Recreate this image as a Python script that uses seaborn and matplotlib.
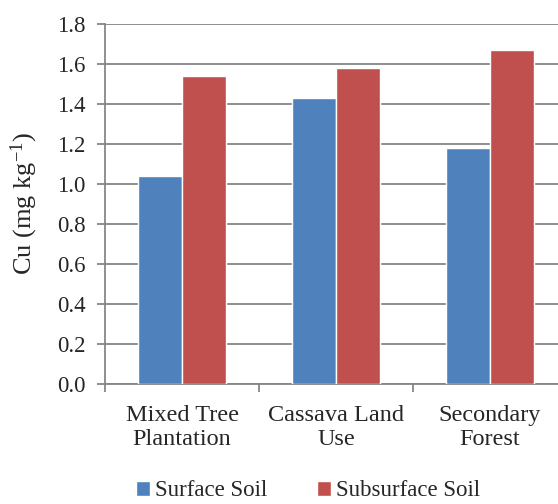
import pandas as pd
import seaborn as sns
import matplotlib.pyplot as plt
from matplotlib.ticker import MultipleLocator, FixedLocator

categories = ["Mixed Tree\nPlantation", "Cassava Land\nUse", "Secondary\nForest"]
surface_soil = [1.04, 1.43, 1.18]
subsurface_soil = [1.54, 1.58, 1.67]
series_names = ["Surface Soil", "Subsurface Soil"]
colors = ["#4F81BD", "#C0504D"]

df = pd.DataFrame({
    "land_use": categories * 2,
    "soil": [series_names[0]] * 3 + [series_names[1]] * 3,
    "cu": surface_soil + subsurface_soil,
})

sns.set_style("white")
plt.rcParams["font.family"] = ["Liberation Serif", "DejaVu Serif"]
plt.rcParams["mathtext.fontset"] = "custom"
plt.rcParams["mathtext.rm"] = "Liberation Serif"
plt.rcParams["mathtext.it"] = "Liberation Serif:italic"

fig = plt.figure(figsize=(5.58, 5.04), dpi=100)
W, H = 558, 504
ax = fig.add_axes([105 / W, 1 - 384 / H, 462 / W, 360 / H])

sns.barplot(data=df, x="land_use", y="cu", hue="soil", palette=colors,
            width=0.571, saturation=1, ax=ax, legend=True, zorder=3)

ax.set_ylim(0, 1.8)
ax.set_xlim(-0.5, 2.5)
ax.yaxis.set_major_locator(MultipleLocator(0.2))
ax.set_yticklabels([f"{v:.1f}" for v in ax.get_yticks()])
ax.yaxis.grid(True, color="#868686", linewidth=1.3, zorder=0)
ax.set_axisbelow(True)

for s in ["top", "right"]:
    ax.spines[s].set_visible(False)
for s in ["left", "bottom"]:
    ax.spines[s].set_color("#868686")
    ax.spines[s].set_linewidth(1.3)

ax.tick_params(axis="y", which="major", direction="out", length=6, width=1.3,
               color="#868686", labelsize=16.5, pad=8, left=True)
ax.tick_params(axis="x", which="major", length=0, labelsize=17.5, pad=15)
for t in ax.get_xticklabels():
    t.set_linespacing(1.2)
ax.xaxis.set_minor_locator(FixedLocator([-0.5, 0.5, 1.5, 2.5]))
ax.tick_params(axis="x", which="minor", direction="out", length=6, width=1.3,
               color="#868686", bottom=True)

ax.set_xlabel("")
ax.set_ylabel("Cu (mg kg$^{-1}$)", fontsize=19)
ax.yaxis.set_label_coords(-65 / 462, 0.5)

handles, labels = ax.get_legend_handles_labels()
ax.legend_.remove()
fig.legend(handles, labels, loc="center", bbox_to_anchor=(308 / W, 1 - 491 / H),
           ncol=2, frameon=False, fontsize=16.5, handlelength=0.6,
           handleheight=0.6, handletextpad=0.2, columnspacing=2.2,
           borderpad=0.1)

fig.savefig("out.png", dpi=100)
